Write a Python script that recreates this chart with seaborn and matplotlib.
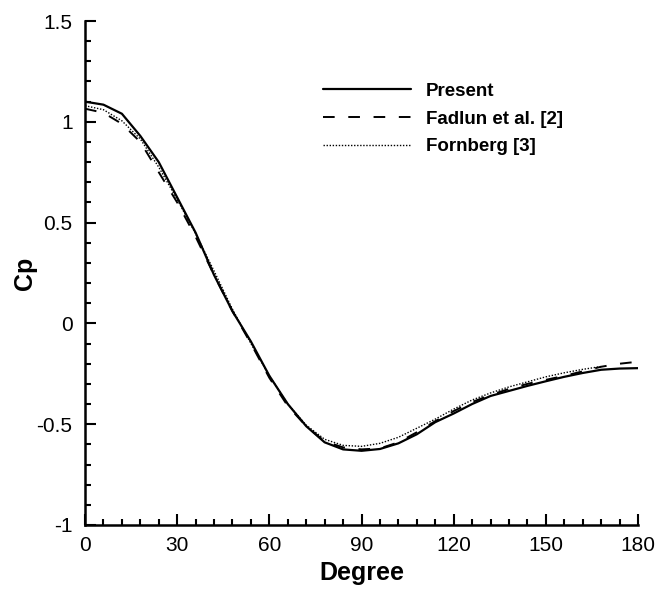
#!/usr/bin/env python
# filename: plot.py

import numpy as np
import pandas as pd

import matplotlib
matplotlib.use('Agg')
import matplotlib.pyplot as plt
from matplotlib.ticker import MultipleLocator
import seaborn as sns

# angle along the cylinder (degrees)
deg = [0, 6, 12, 18, 24, 30, 36, 42, 48, 54, 60, 66, 72, 78, 84, 90,
       96, 102, 108, 114, 120, 126, 132, 138, 144, 150, 156, 162, 168, 174, 180]

present = [1.10, 1.085, 1.04, 0.93, 0.80, 0.625, 0.45, 0.24, 0.06, -0.09, -0.26,
           -0.40, -0.51, -0.59, -0.625, -0.632, -0.623, -0.595, -0.55, -0.49,
           -0.447, -0.40, -0.36, -0.335, -0.31, -0.287, -0.265, -0.246, -0.23,
           -0.224, -0.222]

fadlun = [1.065, 1.045, 0.99, 0.90, 0.75, 0.60, 0.43, 0.24, 0.06, -0.10, -0.27,
          -0.41, -0.51, -0.585, -0.615, -0.625, -0.62, -0.59, -0.54, -0.485,
          -0.435, -0.39, -0.355, -0.325, -0.30, -0.28, -0.26, -0.238, -0.215,
          -0.20, -0.19]

deg_forn = deg[:29]
fornberg = [1.08, 1.06, 1.005, 0.915, 0.775, 0.615, 0.445, 0.26, 0.07, -0.10,
            -0.26, -0.40, -0.505, -0.575, -0.605, -0.61, -0.595, -0.565, -0.52,
            -0.475, -0.425, -0.38, -0.345, -0.315, -0.29, -0.265, -0.245, -0.228,
            -0.214]

names = ['Present', 'Fadlun et al. [2]', 'Fornberg [3]']
yticks = [-1, -0.5, 0, 0.5, 1, 1.5]
ylabels = ['-1', '-0.5', '0', '0.5', '1', '1.5']

#build long df
df = pd.concat([
    pd.DataFrame({'Degree': deg, 'Cp': present, 'src': names[0]}),
    pd.DataFrame({'Degree': deg, 'Cp': fadlun, 'src': names[1]}),
    pd.DataFrame({'Degree': deg_forn, 'Cp': fornberg, 'src': names[2]}),
])

sns.set_style('ticks')
plt.rcParams['font.family'] = ['Liberation Sans', 'DejaVu Sans']
plt.rcParams['text.color'] = 'black'
plt.rcParams['axes.labelcolor'] = 'black'
plt.rcParams['xtick.color'] = 'black'
plt.rcParams['ytick.color'] = 'black'
plt.rcParams['axes.edgecolor'] = 'black'

fig = plt.figure(figsize=(6.56, 5.92), dpi=100)
ax = fig.add_axes([0.1296, 0.1132, 0.843, 0.8513])

sns.lineplot(data=df, x='Degree', y='Cp', hue='src', style='src',
             palette=['black'] * 3, hue_order=names, style_order=names,
             dashes={names[0]: '', names[1]: (6, 7), names[2]: (1, 1.2)},
             estimator=None, sort=False, ax=ax, legend=False)

widths = [1.6, 1.4, 1.0]
for line, w in zip(ax.lines, widths):
    line.set_linewidth(w)

ax.legend(ax.lines[:3], names, loc='upper left', bbox_to_anchor=(0.399, 0.911),
          frameon=False, handlelength=4.7, handletextpad=0.8, labelspacing=0.57,
          prop={'weight': 'bold', 'size': 13.5})

ax.set_xlim(0, 180)
ax.set_ylim(-1, 1.5)
ax.xaxis.set_major_locator(MultipleLocator(30))
ax.xaxis.set_minor_locator(MultipleLocator(6))
ax.yaxis.set_minor_locator(MultipleLocator(0.1))
ax.set_yticks(yticks)
ax.set_yticklabels(ylabels)

ax.tick_params(which='both', direction='in', width=1.5, labelsize=15)
ax.tick_params(axis='x', pad=8)
ax.tick_params(axis='y', pad=9)
ax.tick_params(which='major', length=8)
ax.tick_params(which='minor', length=4.5)
for s in ['left', 'bottom']:
    ax.spines[s].set_linewidth(1.8)
sns.despine(ax=ax)

ax.set_xlabel('Degree', fontsize=18, fontweight='bold', labelpad=4)
ax.set_ylabel('Cp', fontsize=18, fontweight='bold', labelpad=0)

fig.savefig('out.png', dpi=100)
